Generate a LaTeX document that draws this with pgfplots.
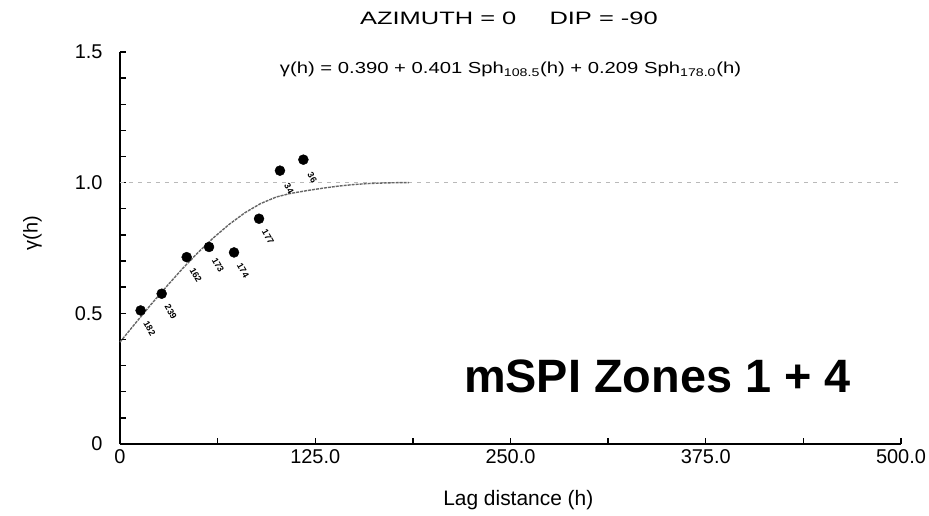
\documentclass[border=0pt]{standalone}
\usepackage{fontspec}
\setmainfont{Liberation Sans}
\usepackage{graphicx}
\usepackage{pgfplots}
\pgfplotsset{compat=1.18}

\begin{document}
\begin{tikzpicture}
\useasboundingbox (-120bp,-72bp) rectangle (809bp,444bp);
\begin{axis}[
  width=781bp, height=392bp, scale only axis,
  xmin=0, xmax=500, ymin=0, ymax=1.5,
  axis x line*=bottom, axis y line*=left,
  axis line style={line width=1.6bp},
  clip=false,
  tick align=inside,
  major tick length=6bp, minor tick length=6bp,
  every tick/.style={black, line width=1.4bp},
  xtick={0,125,250,375,500},
  xticklabels={0,125.0,250.0,375.0,500.0},
  minor xtick={62.5,187.5,312.5,437.5},
  ytick={0,0.5,1,1.5},
  yticklabels={0,0.5,1.0,1.5},
  minor ytick={0.1,0.2,0.3,0.4,0.6,0.7,0.8,0.9,1.1,1.2,1.3,1.4},
  ticklabel style={font=\fontsize{20}{20}\selectfont},
  xticklabel style={yshift=-2bp},
  yticklabel style={xshift=-14bp},
  xlabel={Lag distance (h)},
  xlabel style={font=\fontsize{21}{21}\selectfont, at={(axis description cs:0.51,0)}, anchor=center, yshift=-56bp},
]
% sill
\addplot[gray!55, line width=1.6bp, dash pattern=on 4bp off 5bp] coordinates {(0,1) (500,1)};
% fitted model (nested spherical), values computed from the printed equation
\addplot[black!60, line width=1.4bp, dash pattern=on 3bp off 1bp] coordinates {
  (0,0.390) (10,0.463) (20,0.535) (30,0.604) (40,0.671) (50,0.733)
  (60,0.790) (70,0.841) (80,0.885) (90,0.920) (100,0.945) (108.5,0.958)
  (120,0.970) (130,0.979) (140,0.987) (150,0.993) (160,0.997) (170,0.999)
  (178,1.000) (185,1.000)
};
% experimental points with pair counts
\addplot[only marks, mark=*, mark size=5bp, black,
  nodes near coords, point meta=explicit symbolic,
  every node near coord/.style={anchor=center, inner sep=0pt, font=\fontsize{9}{9}\selectfont\bfseries, xshift=9bp, yshift=-18bp, rotate=-60}]
  table[meta=n] {
x y n
13.2 0.511 182
26.7 0.575 239
42.7 0.715 162
57.0 0.754 173
73.0 0.733 174
89.0 0.862 177
102.4 1.046 34
117.4 1.088 36
};
\node[font=\fontsize{18}{18}\selectfont] at (axis cs:249,1.628) {\scalebox{1.42}[1]{AZIMUTH = 0\hspace{1.3em}DIP = -90}};
\node[font=\fontsize{16}{16}\selectfont] at (axis cs:250,1.433) {\scalebox{1.27}[1]{γ(h) = 0.390 + 0.401 Sph\textsubscript{108.5}(h) + 0.209 Sph\textsubscript{178.0}(h)}};
\node[font=\fontsize{47}{47}\selectfont\bfseries] at (axis cs:344,0.257) {mSPI Zones 1 + 4};
\node[font=\fontsize{20}{20}\selectfont, rotate=90] at (axis cs:-56,0.806) {γ(h)};
\end{axis}
\end{tikzpicture}
\end{document}
